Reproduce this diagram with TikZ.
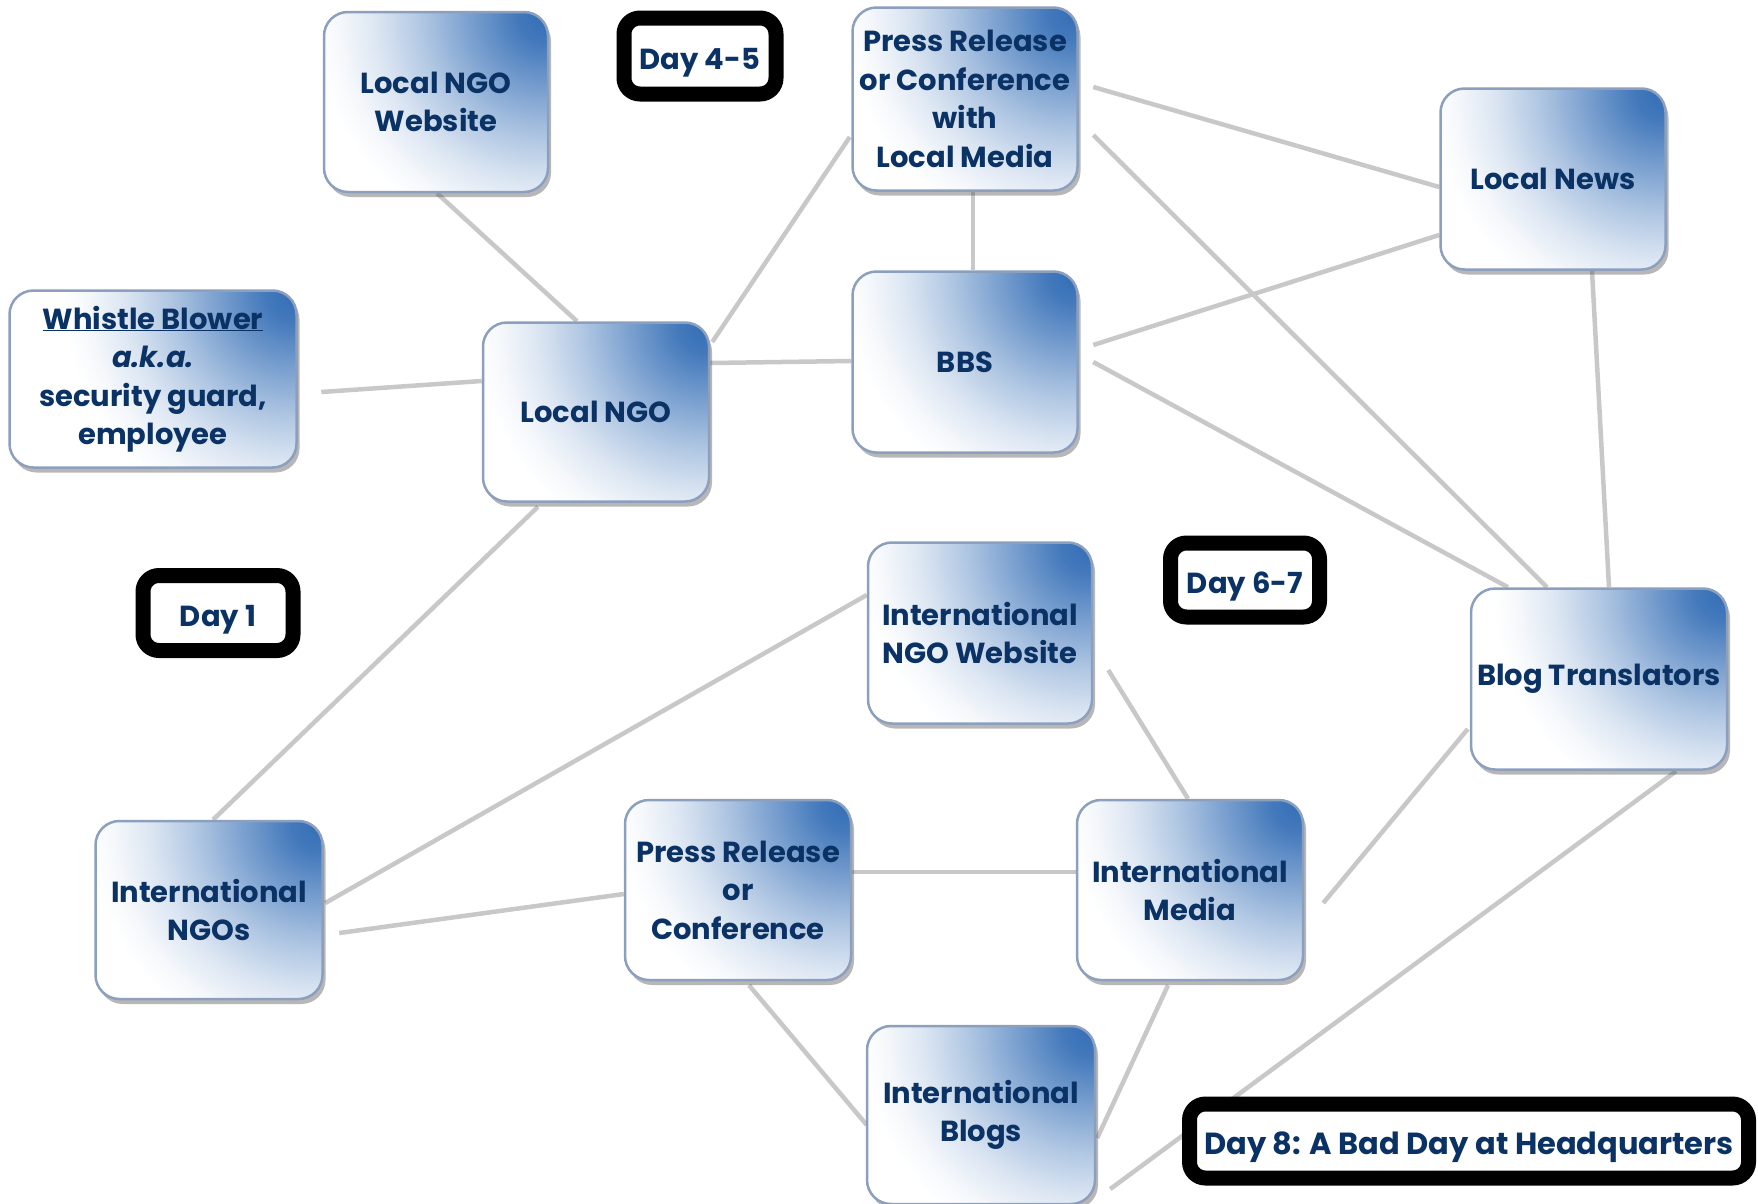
\documentclass[tikz,border=0pt]{standalone}
\usepackage{fontspec}
\setmainfont{Poppins}
\usetikzlibrary{shadows,backgrounds}

\definecolor{inkblue}{RGB}{10,50,100}
\definecolor{boxblue}{RGB}{52,110,182}
\definecolor{boxrim}{RGB}{140,160,190}
\definecolor{linkgrey}{RGB}{200,200,200}

% blue glow spreading from the upper right corner of each box
% (the circle's rim sits at 25bp of the shading, well outside the box)
\pgfdeclareradialshading{cornerglow}{\pgfpoint{0bp}{0bp}}{%
  color(0bp)=(boxblue); color(2.2bp)=(boxblue!92!white);
  color(5.8bp)=(boxblue!66!white); color(9.4bp)=(boxblue!40!white);
  color(13bp)=(boxblue!18!white); color(16bp)=(boxblue!5!white);
  color(18bp)=(white); color(50bp)=(white)}

\tikzset{
  card/.style={rounded corners=24pt, draw=boxrim, line width=2.5pt,
    fill=white, text=inkblue,
    path picture={\shade[shading=cornerglow]
      ([shift={(-4pt,-4pt)}]path picture bounding box.north east) circle (320pt);},
    font=\fontsize{29}{38.5}\selectfont\bfseries, align=center, inner sep=0pt,
    drop shadow={shadow xshift=3pt, shadow yshift=-5pt, opacity=0.4, fill=black!70}},
  daytag/.style={rounded corners=16pt, draw=black, line width=15pt, fill=white,
    text=inkblue, font=\fontsize{29}{38}\selectfont\bfseries, inner sep=0pt,
    text height=29pt, text depth=3pt},
  link/.style={draw=linkgrey, line width=4.5pt}
}

\begin{document}
\begin{tikzpicture}[x=1pt, y=-1pt]
\useasboundingbox (0,0) rectangle (1758,1203);

% nodes of the network
\begin{scope}[every node/.append style={card}]
\node[minimum width=224pt, minimum height=180pt] (lngow) at (436,102) {Local NGO\\Website};
\node[minimum width=287pt, minimum height=177pt] (wb) at (153,379) {\underline{Whistle Blower}\\\itshape a.k.a.\\security guard,\\employee};
\node[minimum width=226pt, minimum height=179pt] (lngo) at (596,412) {Local NGO};
\node[minimum width=225pt, minimum height=183pt] (prl) at (965,99) {Press Release\\or Conference\\with\\Local Media};
\node[minimum width=225pt, minimum height=181pt] (bbs) at (965,362) {BBS};
\node[minimum width=225pt, minimum height=181pt] (lnews) at (1553,179) {Local News};
\node[minimum width=224pt, minimum height=181pt] (ingow) at (980,633) {International\\NGO Website};
\node[minimum width=256pt, minimum height=181pt] (blogt) at (1599,679) {Blog Translators};
\node[minimum width=227pt, minimum height=178pt] (ingos) at (209,910) {International\\NGOs};
\node[minimum width=226pt, minimum height=180pt] (pr) at (738,890) {Press Release\\or\\Conference};
\node[minimum width=226pt, minimum height=180pt] (imedia) at (1190,890) {International\\Media};
\node[minimum width=228pt, minimum height=178pt] (iblogs) at (981,1115) {International\\Blogs};
\end{scope}

% connectors, beneath the boxes
\begin{scope}[on background layer]
\draw[link] ([shift={(1,0)}]lngow.south) -- ([shift={(-19,0)}]lngo.north);
\draw[link] ([shift={(23.5,13)}]wb.east) -- ([shift={(0,-31)}]lngo.west);
\draw[link] ([shift={(0,-49)}]lngo.east) -- ([shift={(0,-1)}]bbs.west);
\draw[link] ([shift={(2,-70)}]lngo.east) -- ([shift={(-1.5,38)}]prl.west);
\draw[link] ([shift={(8,0)}]prl.south) -- ([shift={(8,0)}]bbs.north);
\draw[link] ([shift={(14.5,-12)}]prl.east) -- ([shift={(0,8)}]lnews.west);
\draw[link] ([shift={(14.5,36)}]prl.east) -- ([shift={(-52,0)}]blogt.north);
\draw[link] ([shift={(14.5,-17)}]bbs.east) -- ([shift={(0,56)}]lnews.west);
\draw[link] ([shift={(14.5,0)}]bbs.east) -- ([shift={(-91,0)}]blogt.north);
\draw[link] ([shift={(39,0)}]lnews.south) -- ([shift={(10,0)}]blogt.north);
\draw[link] ([shift={(-58,4)}]lngo.south) -- ([shift={(4,0)}]ingos.north);
\draw[link] ([shift={(1.5,-7)}]ingos.east) -- ([shift={(0,-38)}]ingow.west);
\draw[link] ([shift={(15.5,23)}]ingos.east) -- ([shift={(0,4)}]pr.west);
\draw[link] ([shift={(0,-18)}]pr.east) -- ([shift={(0,-18)}]imedia.west);
\draw[link] ([shift={(11,4)}]pr.south) -- ([shift={(1,10)}]iblogs.west);
\draw[link] ([shift={(15,37)}]ingow.east) -- ([shift={(-2,0)}]imedia.north);
\draw[link] ([shift={(-22,4)}]imedia.south) -- ([shift={(1,23)}]iblogs.east);
\draw[link] ([shift={(19,13)}]imedia.east) -- ([shift={(-2,50)}]blogt.west);
\draw[link] ([shift={(77,0.5)}]blogt.south) -- ([shift={(14,74)}]iblogs.east);
\end{scope}

% day labels
\node[daytag, minimum width=152pt, minimum height=76pt] (day45) at (700,56) {Day 4-5};
\node[daytag, minimum width=150pt, minimum height=75pt] (day1) at (218,613) {Day 1};
\node[daytag, minimum width=149pt, minimum height=74pt] (day67) at (1245,580) {Day 6-7};
\node[daytag, minimum width=559pt, minimum height=74pt, font=\fontsize{30.5}{38}\selectfont\bfseries] (day8) at (1469,1141) {Day 8: A Bad Day at Headquarters};

\end{tikzpicture}
\end{document}
